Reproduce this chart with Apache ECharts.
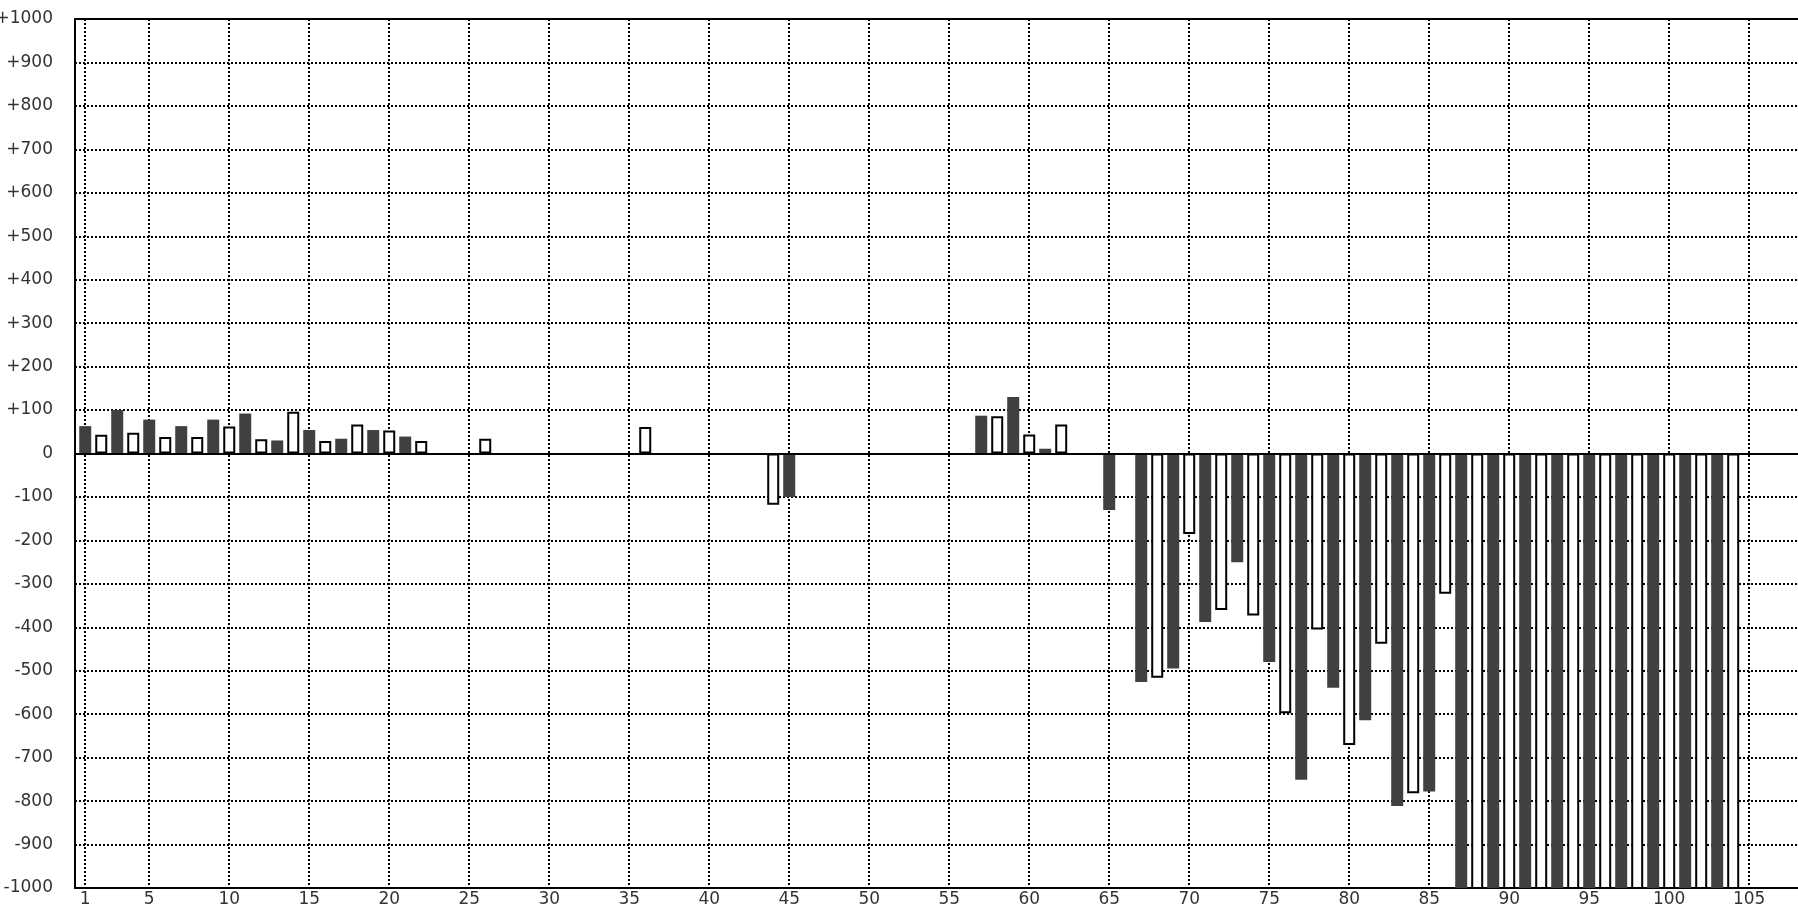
<!DOCTYPE html>
<html><head><meta charset="utf-8">
<script src="https://cdn.jsdelivr.net/npm/echarts@6/dist/echarts.min.js"></script>
<style>html,body{margin:0;padding:0;background:#fff}#c{width:1798px;height:910px}</style>
</head><body><div id="c"></div>
<script>
// x positions (odd = dark series, even = open series)
const darkPositions = [1,3,5,7,9,11,13,15,17,19,21,23,25,27,29,31,33,35,37,39,41,43,45,47,49,51,53,55,57,59,61,63,65,67,69,71,73,75,77,79,81,83,85,87,89,91,93,95,97,99,101,103];
const darkValues = [63,100,78,63,78,92,30,54,34,54,39,
  0,0,0,0,0,0,0,0,0,0,0,
  -100,
  0,0,0,0,0,
  87,130,11,0,
  -130,-526,-495,-388,-250,-480,-751,-539,-614,-811,-778,
  -1100,-1100,-1100,-1100,-1100,-1100,-1100,-1100,-1100];
const lightPositions = [2,4,6,8,10,12,14,16,18,20,22,24,26,28,30,32,34,36,38,40,42,44,46,48,50,52,54,56,58,60,62,64,66,68,70,72,74,76,78,80,82,84,86,88,90,92,94,96,98,100,102,104];
const lightValues = [43,48,38,38,62,33,96,29,67,53,29,
  0,34,0,0,0,0,61,0,0,0,-118,
  0,0,0,0,0,0,
  86,44,67,0,0,
  -516,-185,-360,-373,-598,-405,-671,-438,-782,-323,
  -1100,-1100,-1100,-1100,-1100,-1100,-1100,-1100,-1100];
const xTickValues = [1,5,10,15,20,25,30,35,40,45,50,55,60,65,70,75,80,85,90,95,100,105];

const dotted = {color:'#000', width:2, type:[2,2]};
const solid = {color:'#000', width:2};
const font = {fontFamily:'DejaVu Sans', fontSize:17, color:'#333'};

function toPairs(pos, vals){ return pos.map((p,i)=>[p, vals[i] === 0 ? null : vals[i]]); }

const chart = echarts.init(document.getElementById('c'), null, {renderer:'canvas'});
chart.setOption({
  animation:false,
  backgroundColor:'#fff',
  grid:{left:75, right:0, top:19, bottom:22, containLabel:false, outerBoundsMode:'none'},
  xAxis:[{
    type:'value', min:0.36, max:108.05, position:'bottom',
    axisLine:{show:true, onZero:false, lineStyle:solid},
    axisTick:{show:false, customValues:xTickValues},
    axisLabel:Object.assign({customValues:xTickValues, margin:3, showMinLabel:true, showMaxLabel:true}, font),
    splitLine:{show:true, lineStyle:dotted}
  },{
    type:'value', min:0.36, max:108.05, position:'top',
    axisLine:{show:true, onZero:false, lineStyle:solid},
    axisTick:{show:false}, axisLabel:{show:false}, splitLine:{show:false}
  }],
  yAxis:{
    type:'value', min:-1000, max:1000, interval:100,
    axisLine:{show:true, onZero:false, lineStyle:solid},
    axisTick:{show:false},
    axisLabel:Object.assign({margin:22, formatter:v => v>0 ? '+'+v : String(v)}, font),
    splitLine:{show:true, lineStyle:dotted}
  },
  series:[{
    type:'bar', xAxisIndex:0,
    data:toPairs(darkPositions, darkValues),
    barWidth:12, barGap:'-100%',
    itemStyle:{color:'#404040'},
    clip:true,
    markLine:{silent:true, symbol:'none', label:{show:false},
      lineStyle:{color:'#000', width:2, type:'solid'},
      data:[{yAxis:0}]}
  },{
    type:'bar', xAxisIndex:0,
    data:toPairs(lightPositions, lightValues),
    barWidth:12, barGap:'-100%',
    itemStyle:{color:'#fff', borderColor:'#000', borderWidth:2},
    clip:true
  }]
});
</script>
</body></html>
